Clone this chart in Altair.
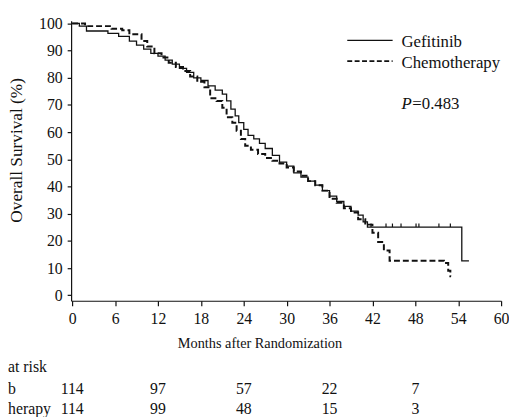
import altair as alt
import pandas as pd

# Kaplan-Meier step points (month of step, survival % after step)
gef_months = [0, 1.0, 2.0, 5.0, 6.5, 8.0, 9.0, 10.0, 11.0, 12.0, 13.0, 14.0, 15.0, 16.0,
              17.0, 18.0, 19.0, 20.0, 21.0, 21.6, 22.2, 22.8, 23.3, 24.0, 24.6, 25.4,
              26.2, 27.0, 28.0, 29.0, 30.0, 31.0, 32.0, 33.0, 34.0, 35.0, 36.0, 37.0,
              38.0, 39.0, 40.0, 40.7, 41.3, 54.5, 55.5]
gef_surv = [100, 99, 97.2, 96.3, 95.2, 93.5, 92, 90.5, 89, 88, 86.5, 85, 83.5, 82,
            80, 79, 77, 75.5, 74, 71.5, 68.5, 66, 63.5, 61, 58.8, 57.5,
            55.9, 54, 51.5, 49, 47.5, 45, 43.5, 42, 40.5, 38.5, 36.5, 34.5,
            32.7, 31, 29.5, 27, 25.1, 12.7, 12.7]

chem_months = [0, 1.8, 5.5, 7.0, 8.0, 9.7, 10.5, 11.5, 12.5, 13.5, 14.5, 15.5, 16.5,
               17.5, 18.5, 19.3, 20.2, 21.0, 21.6, 22.4, 23.0, 23.6, 24.2, 25.0, 26.0,
               27.0, 28.0, 29.0, 30.0, 31.0, 32.0, 33.0, 34.0, 35.0, 36.0, 37.0, 38.0,
               39.0, 40.0, 41.0, 42.0, 42.8, 43.6, 44.4, 52.0, 52.6, 52.9, 53.0]
chem_surv = [100, 99, 98, 97.5, 96, 93.5, 91.5, 89, 87.5, 85.5, 84, 82.5, 80.5,
             78.5, 76.5, 72.5, 71.5, 69, 65.5, 63.5, 60.5, 57.5, 55, 53.5, 52,
             50.5, 49.5, 48.5, 47, 45.5, 44, 42, 40.5, 38.5, 35.5, 34, 32,
             30.5, 28, 26, 23, 19.6, 16.5, 12.7, 11.9, 9, 7, 7]

censor_months = [41.8, 43.9, 44.8, 46.0, 48.1, 48.5, 51.3, 52.9]
censor_surv = [25.1] * len(censor_months)
censor_top = [26.4] * len(censor_months)

risk_months = [0, 12, 24, 36, 48]
risk_gef = [114, 97, 57, 22, 7]
risk_chem = [114, 99, 48, 15, 3]

FONT = "Liberation Serif"
INK = "#111111"

gef_df = pd.DataFrame({"month": gef_months, "surv": gef_surv})
chem_df = pd.DataFrame({"month": chem_months, "surv": chem_surv})
cens_df = pd.DataFrame({"month": censor_months, "surv": censor_surv, "top": censor_top})
risk_df = pd.DataFrame({"month": risk_months, "gef": risk_gef, "chem": risk_chem})

xscale = alt.Scale(domain=[-0.15, 60], nice=False, zero=False)
yscale = alt.Scale(domain=[-2, 101], nice=False, zero=False)

common = dict(grid=False, domainColor=INK, tickColor=INK, labelColor=INK, titleColor=INK,
              labelFont=FONT, titleFont=FONT, labelFontSize=16, titleFontWeight="normal",
              domainWidth=1.2, tickWidth=1.2, labelOverlap=False, labelBound=False,
              labelFlush=False)

xaxis = alt.Axis(values=list(range(0, 61, 6)), title="Months after Randomization",
                 titleX=191, titleY=43, titleBaseline="middle", titleAlign="center",
                 titleFontSize=14.5, tickSize=5, labelPadding=5, **common)
yaxis = alt.Axis(values=list(range(0, 101, 10)), title="Overall Survival (%)",
                 titleX=-55, titleY=131, titleAngle=270, titleBaseline="middle",
                 titleAlign="center", titleFontSize=17.5, tickSize=4, labelPadding=5, **common)

gef_line = alt.Chart(gef_df).mark_line(interpolate="step-after", color=INK, strokeWidth=1.3).encode(
    x=alt.X("month:Q", scale=xscale, axis=xaxis),
    y=alt.Y("surv:Q", scale=yscale, axis=yaxis),
)
chem_line = alt.Chart(chem_df).mark_line(interpolate="step-after", color=INK, strokeWidth=2,
                                         strokeDash=[6, 3]).encode(
    x=alt.X("month:Q", scale=xscale, axis=xaxis),
    y=alt.Y("surv:Q", scale=yscale, axis=yaxis),
)
censor = alt.Chart(cens_df).mark_rule(color=INK, strokeWidth=1.2).encode(
    x=alt.X("month:Q", scale=xscale, axis=xaxis),
    y=alt.Y("surv:Q", scale=yscale, axis=yaxis),
    y2="top:Q",
)

one = alt.Data(values=[{}])
leg_solid = alt.Chart(one).mark_rule(color=INK, strokeWidth=1.3).encode(
    x=alt.value(280), x2=alt.value(326), y=alt.value(20))
leg_dash = alt.Chart(one).mark_rule(color=INK, strokeWidth=1.6, strokeDash=[5, 2.5]).encode(
    x=alt.value(280), x2=alt.value(326), y=alt.value(41))
leg_t1 = alt.Chart(one).mark_text(text="Gefitinib", font=FONT, fontSize=17, color=INK,
                                  align="left", baseline="middle").encode(
    x=alt.value(335), y=alt.value(22))
leg_t2 = alt.Chart(one).mark_text(text="Chemotherapy", font=FONT, fontSize=17, color=INK,
                                  align="left", baseline="middle").encode(
    x=alt.value(335), y=alt.value(43))
p_t1 = alt.Chart(one).mark_text(text="P", font=FONT, fontSize=17, fontStyle="italic", color=INK,
                                align="left", baseline="middle").encode(
    x=alt.value(335), y=alt.value(85))
p_t2 = alt.Chart(one).mark_text(text="=0.483", font=FONT, fontSize=17, color=INK,
                                align="left", baseline="middle").encode(
    x=alt.value(346), y=alt.value(85))

lab_risk = alt.Chart(one).mark_text(text="at risk", font=FONT, fontSize=16, color=INK,
                                    align="left", baseline="middle").encode(
    x=alt.value(-64), y=alt.value(351))
lab_gef = alt.Chart(one).mark_text(text="b", font=FONT, fontSize=16, color=INK,
                                   align="left", baseline="middle").encode(
    x=alt.value(-64), y=alt.value(374))
lab_chem = alt.Chart(one).mark_text(text="herapy", font=FONT, fontSize=16, color=INK,
                                    align="left", baseline="middle").encode(
    x=alt.value(-64), y=alt.value(394))

risk_g = alt.Chart(risk_df).mark_text(font=FONT, fontSize=16, color=INK, baseline="middle").encode(
    x=alt.X("month:Q", scale=xscale, axis=xaxis), y=alt.value(374), text="gef:Q")
risk_c = alt.Chart(risk_df).mark_text(font=FONT, fontSize=16, color=INK, baseline="middle").encode(
    x=alt.X("month:Q", scale=xscale, axis=xaxis), y=alt.value(394), text="chem:Q")

chart = alt.layer(
    gef_line, chem_line, censor, leg_solid, leg_dash, leg_t1, leg_t2, p_t1, p_t2,
    lab_risk, lab_gef, lab_chem, risk_g, risk_c,
).properties(
    width=436, height=284,
    autosize=alt.AutoSizeParams(type="none"),
    padding={"left": 64, "top": 10, "right": 8, "bottom": 115},
).configure_view(stroke=None)

chart.save("out.html", embed_options={"renderer": "svg", "actions": False})
